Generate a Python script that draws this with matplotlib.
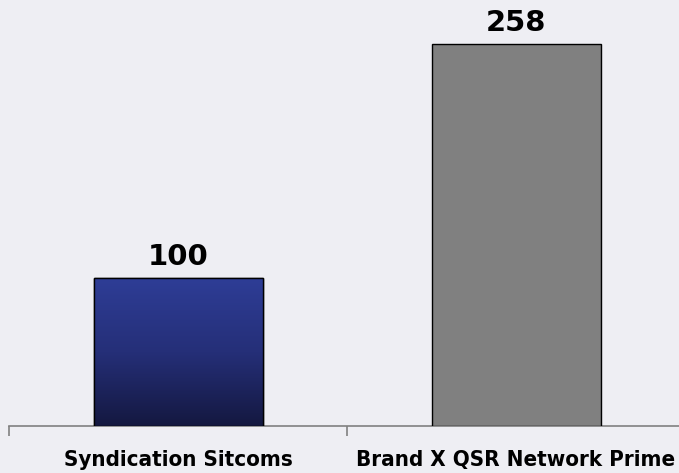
import matplotlib
matplotlib.use("Agg")
import matplotlib.pyplot as plt
import numpy as np
from matplotlib.colors import LinearSegmentedColormap

categories = ["Syndication Sitcoms", "Brand X QSR Network Prime"]
values = [100, 258]
value_labels = ["100", "258"]

W, H = 679, 473
fig = plt.figure(figsize=(W / 100, H / 100), dpi=100)
bg = "#eeeef3"
fig.patch.set_facecolor(bg)
ax = fig.add_axes([9 / W, (H - 426) / H, 676 / W, 426 / H])
ax.set_facecolor(bg)

x = np.arange(len(categories))
bars = ax.bar(x, values, width=0.5, color=["#2e3d96", "#808080"],
              edgecolor="black", linewidth=1, zorder=3)
ax.set_xlim(-0.5, 1.5)
ax.set_ylim(0, 288)

# gradient on first bar
cmap = LinearSegmentedColormap.from_list("g", ["#141840", "#252f78", "#2e3d96"])
b = bars[0]
grad = np.linspace(0, 1, 256).reshape(-1, 1)
im = ax.imshow(grad, extent=[b.get_x(), b.get_x() + b.get_width(), 0, b.get_height()],
               origin="lower", aspect="auto", cmap=cmap, zorder=3.5)
im.set_clip_path(b)
ax.bar([0], [values[0]], width=0.5, fill=False, edgecolor="black", linewidth=1, zorder=4)

for xi, v, lab in zip(x, values, value_labels):
    ax.annotate(lab, (xi, v), xytext=(0, 9.5), textcoords="offset points",
                ha="center", va="baseline", fontsize=21, fontweight="bold",
                family="DejaVu Sans", color="black")

for s in ["top", "right", "left"]:
    ax.spines[s].set_visible(False)
ax.spines["bottom"].set_color("#808080")
ax.spines["bottom"].set_linewidth(1.2)
ax.set_yticks([])
ax.set_xticks(x)
ax.set_xticklabels(categories, fontsize=16, fontweight="bold", family="DejaVu Sans",
                   fontstretch="condensed")
ax.tick_params(axis="x", which="major", length=0, pad=17)
ax.set_xticks([-0.5, 0.5, 1.5], minor=True)
ax.tick_params(axis="x", which="minor", length=7, color="#808080", width=1.2)

fig.savefig("out.png", dpi=100, facecolor=bg)
